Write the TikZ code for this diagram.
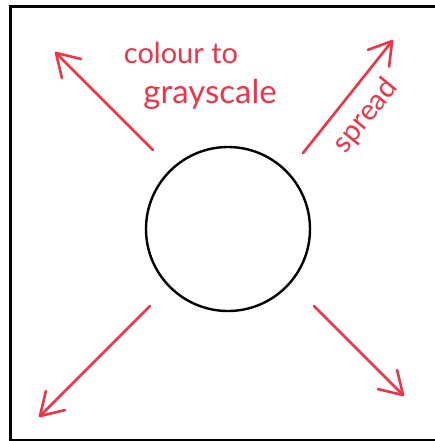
\documentclass[tikz,border=0pt]{standalone}
\usepackage{fontspec}
\setmainfont{Lato}
\usepackage{xcolor}
\usetikzlibrary{arrows.meta, positioning}

\definecolor{inkred}{RGB}{238,52,72}

\begin{document}
\begin{tikzpicture}[
    x=1pt, y=-1pt,
    frame/.style={line width=3pt, black},
    hub/.style={circle, draw, line width=2.4pt, minimum size=164pt, inner sep=0pt},
    spreadarrow/.style={line width=2.6pt, inkred, line cap=round,
        -{Straight Barb[length=22pt, width=27pt, line cap=round, line join=round]}},
    note/.style={inkred, font=\fontsize{29}{30}\selectfont, inner sep=0pt}
]

\useasboundingbox (0,0) rectangle (435,441);

% Frame
\draw[frame] (435,7) -- (10,7) -- (10,440) -- (435,440);

% Main components
\node[hub] (pic) at (228,229) {};

% Arrow ends
\coordinate (tlS) at (153,150);
\coordinate (tlE) at (55,52);
\coordinate (trS) at (303,153);
\coordinate (trE) at (393,40);
\coordinate (blS) at (150,306);
\coordinate (blE) at (39,417);
\coordinate (brS) at (314,306);
\coordinate (brE) at (404,396);

% Arrows
\draw[spreadarrow] (tlS) -- (tlE);
\draw[spreadarrow] (trS) -- (trE);
\draw[spreadarrow] (blS) -- (blE);
\draw[spreadarrow] (brS) -- (brE);

% Labels
\node[note] (colour) at (181,53) {colour to};
\node[note, font=\fontsize{33}{34}\selectfont] (gray) at (210,94) {grayscale};
\node[note, rotate=51] (spread) at (366,116) {spread};

\end{tikzpicture}
\end{document}
